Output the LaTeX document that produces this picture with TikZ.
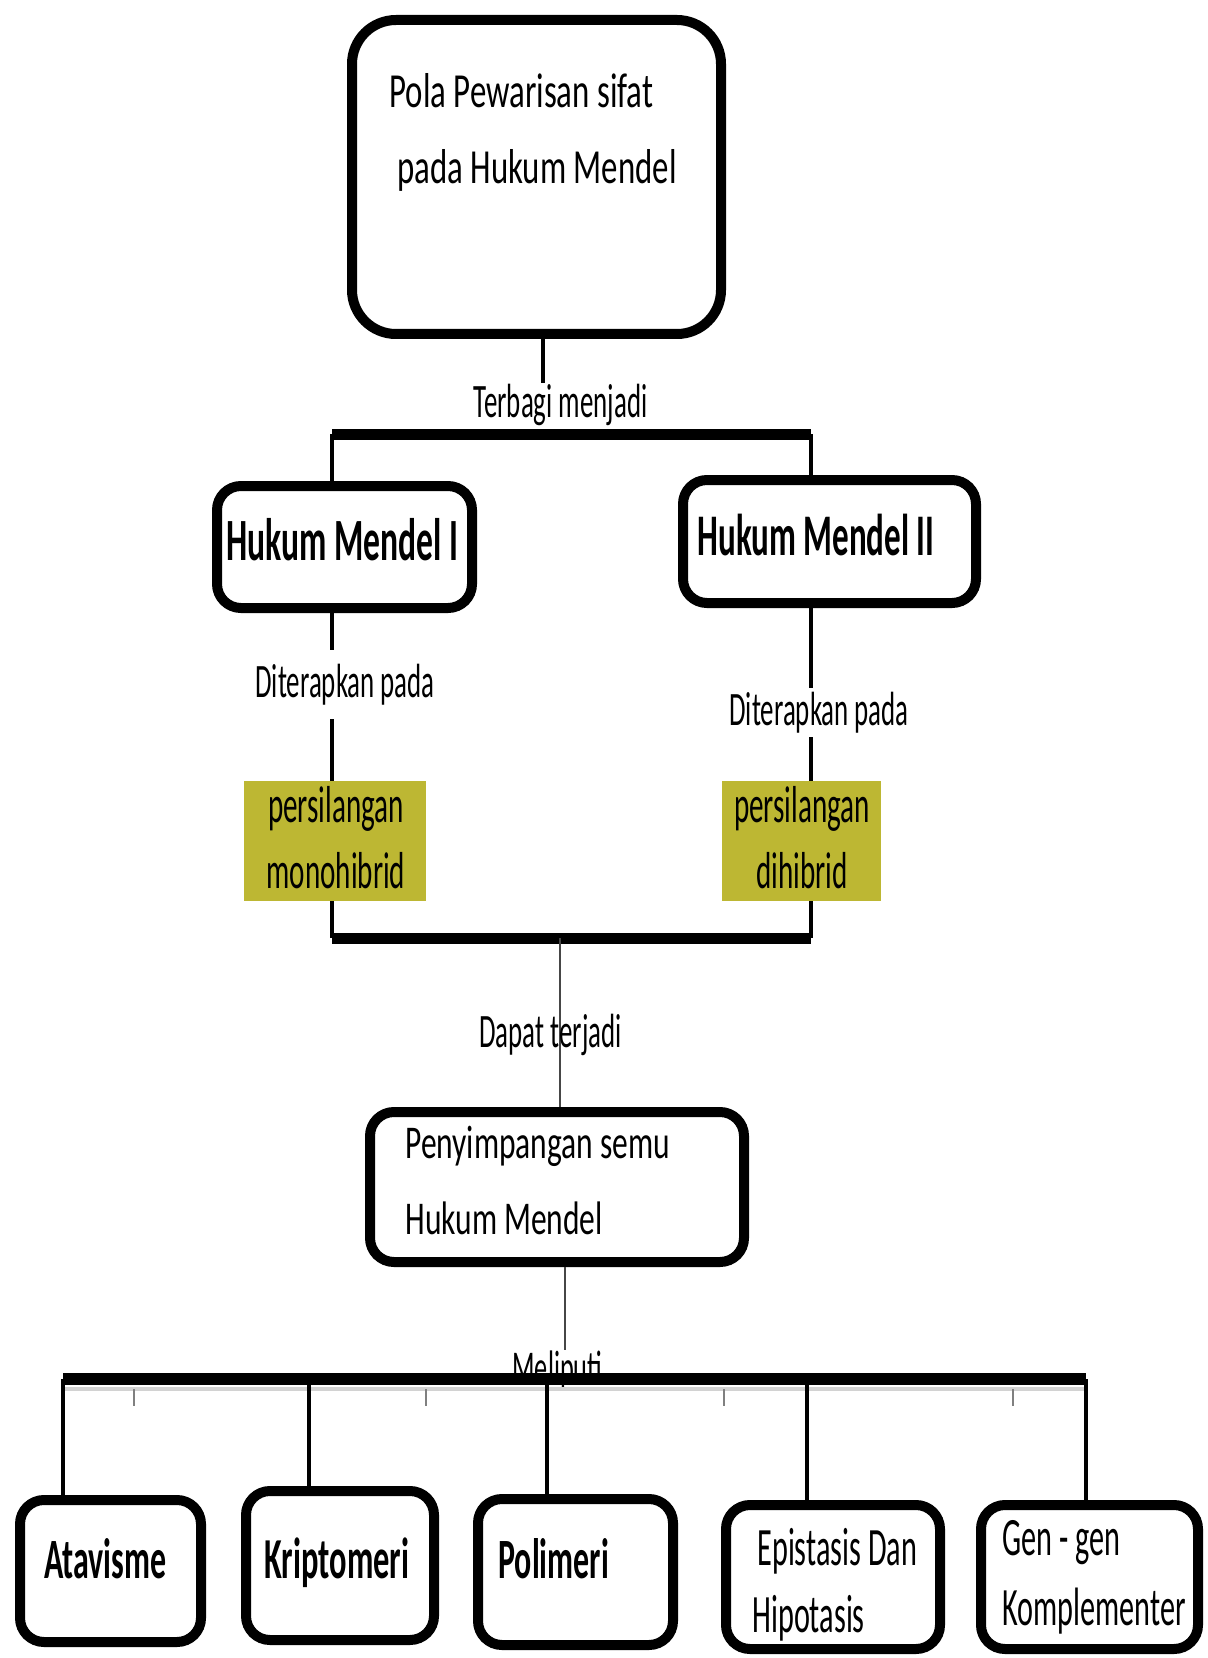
\documentclass[tikz,border=0pt]{standalone}
\usepackage{fontspec}
\setmainfont{Carlito}[FakeStretch=0.56]
\newfontfamily\wideface{Carlito}[FakeStretch=0.67]
\usepackage{tikz}
\definecolor{mustard}{RGB}{189,183,51}
\definecolor{linkgray}{RGB}{70,70,70}

\tikzset{
  box/.style={draw, line width=5pt, rounded corners=12pt, inner sep=0pt},
  crossfill/.style={fill=mustard, inner sep=0pt},
  txt/.style={inner sep=0pt, anchor=base west},
  link/.style={line width=2pt},
  thinlink/.style={line width=1pt, draw=linkgray},
  bar/.style={line width=5.5pt}
}

\begin{document}
\begin{tikzpicture}[x=0.5pt,y=-0.5pt]
\useasboundingbox (0,0) rectangle (1207,1658);

\node[box, rounded corners=22pt, minimum width=184.5pt, minimum height=157pt] (pola) at (536.5,177) {};
\node[txt, align=left, font=\wideface\fontsize{24.5}{38}\selectfont] (polatext) at (389,184) {Pola Pewarisan sifat\\\hspace*{4pt}pada Hukum Mendel};

\node[txt, font=\fontsize{24}{24}\selectfont] (terbagi) at (473,417) {Terbagi menjadi};
\draw[link] ([xshift=3.25pt]pola.south) -- ([xshift=3.25pt]pola.south |- terbagi.north);

\node[box, minimum width=127.5pt, minimum height=61pt] (m1) at (344.5,547) {};
\node[txt, font=\bfseries\fontsize{30}{30}\selectfont] (m1text) at (226,560) {Hukum Mendel I};
\node[box, minimum width=146.5pt, minimum height=61.5pt] (m2) at (829.5,541.5) {};
\node[txt, font=\bfseries\fontsize{29.5}{30}\selectfont] (m2text) at (697,555) {Hukum Mendel II};

\coordinate (tl) at (332,434);
\coordinate (tr) at (811,434);
\draw[bar] (tl) -- (tr);
\draw[link] (tl) -- (tl |- m1.north);
\draw[link] (tr) -- (tr |- m2.north);

\node[crossfill, minimum width=91pt, minimum height=60pt] (mono) at (335,841) {};
\node[align=center, inner sep=0pt, font=\fontsize{26}{33}\selectfont] (monotext) at (336,838) {persilangan\\monohibrid};
\node[crossfill, minimum width=79.5pt, minimum height=60pt] (di) at (801.5,841) {};
\node[align=center, inner sep=0pt, font=\fontsize{26}{33}\selectfont] (ditext) at (802,838) {persilangan\\dihibrid};

\draw[link] (m1.south -| tl) -- (mono.north -| tl);
\draw[link] (m2.south -| tr) -- (di.north -| tr);
\node[txt, fill=white, inner sep=7pt, font=\fontsize{24}{24}\selectfont] (dit1) at (241,697) {Diterapkan pada};
\node[txt, fill=white, inner sep=2pt, font=\fontsize{24}{24}\selectfont] (dit2) at (725,725) {Diterapkan pada};

\coordinate (bl) at (332,938);
\coordinate (br) at (811,938);
\coordinate (bm) at (560,938);
\draw[bar] (bl) -- (br);
\draw[link] (mono.south -| bl) -- (bl);
\draw[link] (di.south -| br) -- (br);

\node[box, minimum width=187pt, minimum height=75pt] (peny) at (557,1187) {};
\node[txt, align=left, font=\wideface\fontsize{23.5}{38}\selectfont] (penytext) at (405,1234) {Penyimpangan semu\\Hukum Mendel};
\draw[thinlink] (bm) -- (bm |- peny.north);
\node[txt, font=\fontsize{24}{24}\selectfont] (dapat) at (479,1047) {Dapat terjadi};

\node[txt, font=\fontsize{23.5}{24}\selectfont] (meliputi) at (512,1383) {Meliputi};
\draw[thinlink] ([xshift=4pt]peny.south) -- ([xshift=4pt]peny.south |- meliputi.north);

\node[box, minimum width=90.5pt, minimum height=71pt] (ata) at (110.5,1571) {};
\node[box, minimum width=94pt, minimum height=74.5pt] (kri) at (340,1565.5) {};
\node[box, minimum width=97.5pt, minimum height=73pt] (pol) at (575.5,1572) {};
\node[box, minimum width=107pt, minimum height=72pt] (epi) at (833,1577) {};
\node[box, minimum width=108.5pt, minimum height=72pt] (gen) at (1089.5,1577) {};

\node[txt, font=\bfseries\fontsize{28.5}{28}\selectfont] (atatext) at (44,1578) {Atavisme};
\node[txt, font=\bfseries\fontsize{29}{28}\selectfont] (kritext) at (264,1578) {Kriptomeri};
\node[txt, font=\bfseries\fontsize{28.5}{28}\selectfont] (poltext) at (498,1578) {Polimeri};
\node[txt, align=left, font=\fontsize{27}{33.5}\selectfont] (epitext) at (752,1632) {\hspace*{2.5pt}Epistasis Dan\\Hipotasis};
\node[txt, align=left, font=\fontsize{27}{35}\selectfont] (gentext) at (1002,1625) {Gen - gen\\Komplementer};

\draw[gray!35, line width=2pt] (63,1389) -- (1086,1389);
\foreach \x in {134,426,724,1013}
  \draw[gray, line width=1pt] (\x,1389) -- (\x,1406);
\foreach \x/\n in {63/ata,309/kri,547/pol,807/epi,1086/gen} {
  \coordinate (c\n) at (\x,1379);
  \draw[link] (c\n) -- (c\n |- \n.north);
}
\draw[bar, line width=6pt] (cata) -- (cgen);
\end{tikzpicture}
\end{document}
